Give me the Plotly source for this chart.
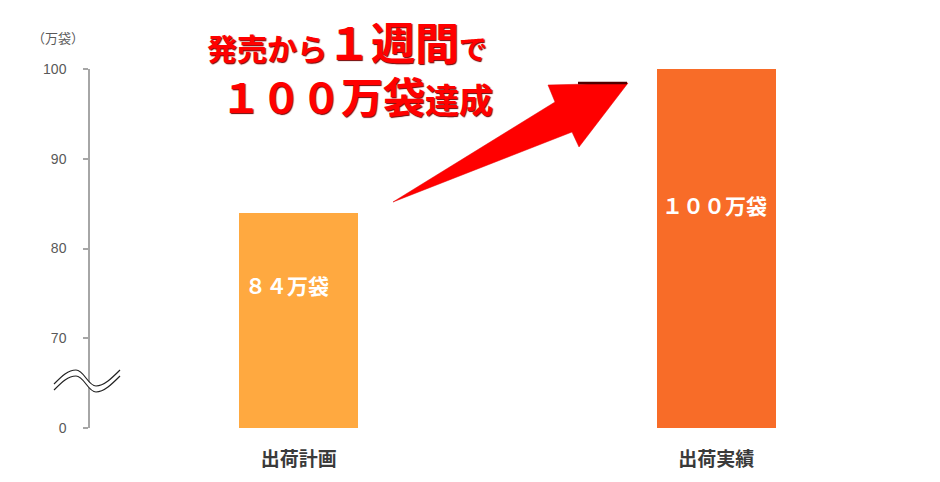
import plotly.graph_objects as go

categories = ["出荷計画", "出荷実績"]
values = [84, 100]
bar_colors = ["#FFA940", "#F86C28"]
bar_labels = ["８４万袋", "１００万袋"]
label_y = [75.9, 84.9]
label_shift = [-12, -2]
tick_vals = [60, 70, 80, 90, 100]
tick_text = ["0", "70", "80", "90", "100"]
unit_label = "（万袋）"

OFF = 8  # page body margin
W, H = 940 - OFF, 482 - OFF
ML, MR, MT, MB = 90 - OFF, 15, 69 - OFF, 54
PW, PH = W - ML - MR, H - MT - MB


def px(x, y):
    # page pixel -> paper coords
    return (x - OFF - ML) / PW, (H - MB - (y - OFF)) / PH


def path(segs, close=False):
    s = ""
    for cmd, pts in segs:
        s += cmd + " " + " ".join("%.5f,%.5f" % px(*p) for p in pts) + " "
    if close:
        s += "Z"
    return s


fig = go.Figure()
fig.add_trace(go.Bar(
    x=categories, y=values, base=0, width=0.285,
    marker=dict(color=bar_colors, line=dict(width=0)),
    hoverinfo="skip",
))

for c, lab, ly, sh in zip(categories, bar_labels, label_y, label_shift):
    fig.add_annotation(x=c, y=ly, xref="x", yref="y", text=lab, showarrow=False, xshift=sh,
                       font=dict(family="Noto Sans CJK JP", size=21, color="white", weight="bold"))

# wave (axis break)
up = [(54, 384), (62, 376), (68, 370), (76, 370), (84, 370), (88, 386), (96, 386),
      (104, 386), (112, 378), (120, 370)]
dy = 6
lo = [(x, y + dy) for x, y in up]


def curve(pts):
    segs = [("M", [pts[0]])]
    for i in range(1, len(pts), 3):
        segs.append(("C", pts[i:i + 3]))
    return segs


lo_rev = lo[::-1]
fill_segs = curve(up) + [("L", [lo_rev[0]])] + [("C", lo_rev[i:i + 3]) for i in range(1, len(lo_rev), 3)]
fig.add_shape(type="path", xref="paper", yref="paper", path=path(fill_segs, close=True),
              fillcolor="white", line=dict(width=0), layer="above")
for pts in (up, lo):
    fig.add_shape(type="path", xref="paper", yref="paper", path=path(curve(pts)),
                  line=dict(color="#222222", width=1.2), layer="above")

# arrow
arrow_pts = [(393, 202), (555, 102), (548, 85), (628, 83), (579, 147), (572, 132)]
ap = path([("M", [arrow_pts[0]])] + [("L", [p]) for p in arrow_pts[1:]], close=True)
fig.add_shape(type="path", xref="paper", yref="paper", path=ap,
              fillcolor="#FF0000", line=dict(color="#E00000", width=0.5), layer="above")
fig.add_shape(type="path", xref="paper", yref="paper",
              path=path([("M", [(578, 83)]), ("L", [(627, 83)])]),
              line=dict(color="#500000", width=2.5), layer="above")

# headline (one text block, two lines)
red_font = dict(family="Noto Sans CJK JP", size=41, color="#FF0000", weight="bold",
                shadow="1px 1px 1px #700000")
headline = ("<span style='font-size:30px'>発売から</span>"
            "<span style='font-size:44px'>１週間</span>"
            "<span style='font-size:28px'>で</span><br>"
            "<span style='font-size:14px'>　</span>"
            "<span style='font-size:40px'>１００</span>"
            "<span style='font-size:42px'>万袋</span>"
            "<span style='font-size:34px'>達成</span>")
hx, hy = px(206, 67)
fig.add_annotation(x=hx, y=hy, xref="paper", yref="paper", text=headline, showarrow=False,
                   xanchor="left", yanchor="middle", align="left", borderpad=0, font=red_font)

ux, uy = px(58, 38)
fig.add_annotation(x=ux, y=uy, xref="paper", yref="paper", text=unit_label, showarrow=False,
                   xanchor="center", yanchor="middle",
                   font=dict(family="Noto Sans CJK JP", size=13, color="#595959"))

fig.update_layout(
    width=W, height=H, margin=dict(l=ML, r=MR, t=MT, b=MB),
    paper_bgcolor="white", plot_bgcolor="white", showlegend=False, bargap=0,
    xaxis=dict(range=[-0.5, 1.5], showline=False, showgrid=False, zeroline=False,
               ticks="", ticklabelstandoff=18,
               tickfont=dict(family="Noto Sans CJK JP", size=19, color="#3a3a3a", weight="bold")),
    yaxis=dict(range=[60, 100], tickvals=tick_vals, ticktext=tick_text,
               showline=True, linecolor="#A6A6A6", linewidth=1.5,
               ticks="outside", ticklen=5, tickcolor="#A6A6A6", tickwidth=1.5,
               showgrid=False, zeroline=False, ticklabelstandoff=14,
               tickfont=dict(family="Liberation Sans", size=14, color="#595959")),
)

fig.write_html("out.html")
